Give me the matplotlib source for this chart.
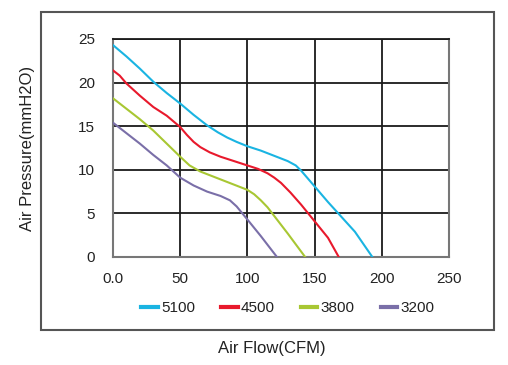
import matplotlib.pyplot as plt
from matplotlib.patches import Rectangle

plt.rcParams['font.family'] = ['Liberation Sans', 'DejaVu Sans']

# curve points (CFM, mmH2O)
flow_5100 = [0, 10, 20, 30, 40, 50, 60, 70, 78, 85, 92, 100, 110, 120, 130,
             136, 140, 145, 150, 160, 170, 180, 193]
pres_5100 = [24.3, 23.0, 21.6, 20.1, 18.8, 17.6, 16.3, 15.1, 14.3, 13.7, 13.2,
             12.7, 12.2, 11.6, 11.0, 10.5, 9.9, 9.0, 8.1, 6.3, 4.6, 2.9, 0]

flow_4500 = [0, 5, 10, 20, 30, 40, 50, 55, 60, 65, 72, 80, 90, 100, 108, 115,
             120, 125, 132, 140, 150, 160, 168]
pres_4500 = [21.4, 20.8, 19.9, 18.5, 17.2, 16.2, 14.9, 14.0, 13.2, 12.6, 12.0,
             11.5, 11.0, 10.5, 10.1, 9.6, 9.1, 8.5, 7.4, 6.0, 4.1, 2.2, 0]

flow_3800 = [0, 10, 20, 30, 40, 50, 57, 65, 75, 85, 95, 100, 105, 110, 115,
             120, 130, 143]
pres_3800 = [18.2, 17.0, 15.8, 14.5, 13.0, 11.5, 10.5, 9.8, 9.2, 8.6, 8.0, 7.7,
             7.2, 6.5, 5.7, 4.7, 2.7, 0]

flow_3200 = [0, 10, 20, 30, 40, 50, 60, 70, 80, 87, 92, 100, 110, 122]
pres_3200 = [15.4, 14.2, 13.0, 11.7, 10.5, 9.1, 8.2, 7.5, 7.0, 6.5, 5.8, 4.3,
             2.4, 0]

speeds = ['5100', '4500', '3800', '3200']
colors = ['#1ab4e2', '#e8192c', '#a8c733', '#7a6fa8']

x_ticks = [0, 50, 100, 150, 200, 250]
x_tick_labels = ['0.0', '50', '100', '150', '200', '250']
y_ticks = [0, 5, 10, 15, 20, 25]

fig = plt.figure(figsize=(5.08, 3.65), dpi=100)
ax = fig.add_axes([0.2224, 0.2959, 0.6614, 0.5973])

curves = [(flow_5100, pres_5100), (flow_4500, pres_4500),
          (flow_3800, pres_3800), (flow_3200, pres_3200)]
for (fx, py), lab, c in zip(curves, speeds, colors):
    ax.plot(fx, py, color=c, lw=1.5, label=lab, zorder=3)

ax.set_xlim(0, 250)
ax.set_ylim(0, 25)
ax.set_xticks(x_ticks)
ax.set_xticklabels(x_tick_labels)
ax.set_yticks(y_ticks)
ax.grid(True, color='#1a1a1a', lw=1.3)
ax.tick_params(length=0, labelsize=11, colors='#222222')
ax.tick_params(axis='y', pad=13)
ax.tick_params(axis='x', pad=11)
for s in ['left', 'bottom', 'right']:
    ax.spines[s].set_color('#777777')
    ax.spines[s].set_linewidth(1.5)
ax.spines['top'].set_color('#1a1a1a')
ax.spines['top'].set_linewidth(1.3)

ax.set_ylabel('Air Pressure(mmH2O)', fontsize=12, color='#222222')
ax.yaxis.set_label_coords(-0.232, 0.5)
fig.text(0.535, 0.045, 'Air Flow(CFM)', ha='center', va='center',
         fontsize=12, color='#222222')

leg = ax.legend(loc='upper center', bbox_to_anchor=(0.52, -0.14), ncol=4,
                frameon=False, fontsize=11, handlelength=1.1,
                handletextpad=0.2, columnspacing=1.7)
for t in leg.get_texts():
    t.set_color('#222222')
for h in leg.get_lines():
    h.set_linewidth(3)

fig.patches.append(Rectangle((0.0807, 0.0959), 0.8917, 0.8712,
                             transform=fig.transFigure, fill=False,
                             edgecolor='#555555', lw=1.5))

fig.savefig('out.png', dpi=100)
